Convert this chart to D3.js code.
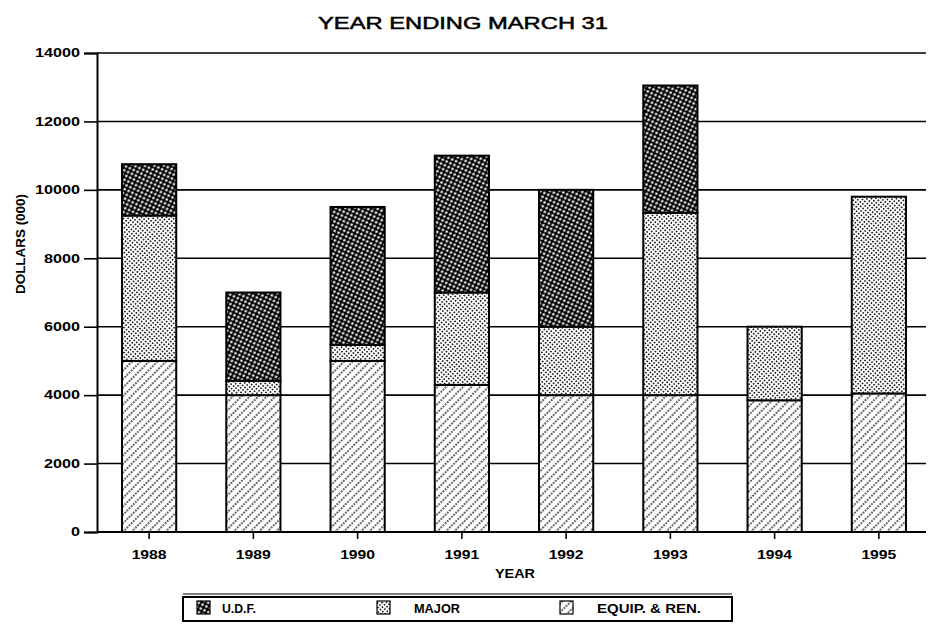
<!DOCTYPE html>
<html>
<head>
<meta charset="utf-8">
<script src="https://cdn.jsdelivr.net/npm/d3@7"></script>
<style>
  body { margin: 0; background: #fff; }
  text { font-family: "Liberation Sans", Arial, sans-serif; fill: #000; }
</style>
</head>
<body>
<div id="chart"></div>
<script>
// values (dollars, 000)
var years = ["1988", "1989", "1990", "1991", "1992", "1993", "1994", "1995"];
var equip = [5000, 4000, 5000, 4300, 4000, 4000, 3850, 4050];
var major = [4250, 420, 470, 2700, 2000, 5330, 2150, 5750];
var udf   = [1500, 2580, 4030, 4000, 4000, 3720, 0, 0];
var yTicks = [0, 2000, 4000, 6000, 8000, 10000, 12000, 14000];
var seriesKeys = ["equip", "major", "udf"];
var legendNames = ["U.D.F.", "MAJOR", "EQUIP. & REN."];

var width = 928, height = 643;
var margin = {top: 53, right: 3, bottom: 111, left: 97};

var svg = d3.select("#chart").append("svg")
    .attr("width", width)
    .attr("height", height);

// patterns
var defs = svg.append("defs");

var pU = defs.append("pattern").attr("id", "pat-udf")
    .attr("patternUnits", "userSpaceOnUse").attr("width", 6).attr("height", 6)
    .attr("patternTransform", "rotate(-20)");
pU.append("rect").attr("width", 6).attr("height", 6).attr("fill", "#000");
pU.append("circle").attr("cx", 1.5).attr("cy", 1.5).attr("r", 1.3).attr("fill", "#fff");
pU.append("circle").attr("cx", 4.5).attr("cy", 4.5).attr("r", 1.3).attr("fill", "#fff");

var pM = defs.append("pattern").attr("id", "pat-major")
    .attr("patternUnits", "userSpaceOnUse").attr("width", 3.2).attr("height", 3.2)
    .attr("patternTransform", "rotate(40)");
pM.append("rect").attr("width", 3.2).attr("height", 3.2).attr("fill", "#fff");
pM.append("circle").attr("cx", 1.6).attr("cy", 1.6).attr("r", 0.9).attr("fill", "#000");

var pE = defs.append("pattern").attr("id", "pat-equip")
    .attr("patternUnits", "userSpaceOnUse").attr("width", 6).attr("height", 6)
    .attr("patternTransform", "rotate(45)");
pE.append("rect").attr("width", 6).attr("height", 6).attr("fill", "#fff");
pE.append("line").attr("x1", 1).attr("y1", 0).attr("x2", 1).attr("y2", 6)
    .attr("stroke", "#000").attr("stroke-width", 1.3).attr("stroke-dasharray", "1.8,1.2");

var fills = {equip: "url(#pat-equip)", major: "url(#pat-major)", udf: "url(#pat-udf)"};

var rows = years.map(function(y, i) {
  return {year: y, equip: equip[i], major: major[i], udf: udf[i]};
});

var x = d3.scaleBand()
    .domain(years)
    .range([margin.left, 931])
    .paddingInner(0.48)
    .paddingOuter(0.24);

var y = d3.scaleLinear()
    .domain([0, 14000])
    .range([height - margin.bottom, margin.top]);

// title
svg.append("text")
    .attr("x", 463).attr("y", 29)
    .attr("text-anchor", "middle")
    .attr("font-size", "17px")
    .attr("stroke", "#000").attr("stroke-width", 0.5)
    .attr("textLength", 290).attr("lengthAdjust", "spacingAndGlyphs")
    .text("YEAR ENDING MARCH 31");

// grid lines
svg.append("g").selectAll("line")
    .data(yTicks.slice(1))
    .enter().append("line")
    .attr("x1", margin.left).attr("x2", 926)
    .attr("y1", function(d) { return y(d); })
    .attr("y2", function(d) { return y(d); })
    .attr("stroke", "#000").attr("stroke-width", 1.6);

// y axis
var yAxis = svg.append("g")
    .attr("transform", "translate(" + margin.left + ",0)")
    .call(d3.axisLeft(y).tickValues(yTicks).tickSize(13).tickPadding(4).tickFormat(d3.format("d")));
yAxis.select(".domain").attr("stroke-width", 2);
yAxis.selectAll(".tick line").attr("stroke-width", 1.6);
yAxis.selectAll(".tick text")
    .attr("font-size", "12px").attr("font-weight", "bold")
    .attr("font-family", "Liberation Sans, Arial, sans-serif")
    .attr("textLength", function(d) { return String(d).length * 9; })
    .attr("lengthAdjust", "spacingAndGlyphs");

// bars
var stacked = d3.stack().keys(seriesKeys)(rows);

svg.append("g").selectAll("g")
    .data(stacked)
    .enter().append("g")
    .attr("fill", function(s) { return fills[s.key]; })
    .selectAll("rect")
    .data(function(s) { return s.filter(function(d) { return d[1] - d[0] > 0; }); })
    .enter().append("rect")
    .attr("x", function(d) { return x(d.data.year); })
    .attr("width", x.bandwidth())
    .attr("y", function(d) { return y(d[1]); })
    .attr("height", function(d) { return y(d[0]) - y(d[1]); })
    .attr("stroke", "#000").attr("stroke-width", 2);

// x axis
var xAxis = svg.append("g")
    .attr("transform", "translate(0," + (height - margin.bottom) + ")")
    .call(d3.axisBottom(x).tickSize(7).tickPadding(11));
xAxis.select(".domain").attr("d", "M" + margin.left + ",0H926").attr("stroke-width", 2);
xAxis.selectAll(".tick line").attr("stroke-width", 1.6);
xAxis.selectAll(".tick text")
    .attr("font-size", "12px").attr("font-weight", "bold")
    .attr("font-family", "Liberation Sans, Arial, sans-serif")
    .attr("textLength", 35).attr("lengthAdjust", "spacingAndGlyphs");

// axis titles
svg.append("text")
    .attr("x", 515).attr("y", 578)
    .attr("text-anchor", "middle")
    .attr("font-size", "12px").attr("font-weight", "bold")
    .attr("textLength", 40).attr("lengthAdjust", "spacingAndGlyphs")
    .text("YEAR");

svg.append("text")
    .attr("transform", "translate(25,244) rotate(-90)")
    .attr("text-anchor", "middle")
    .attr("font-size", "12px").attr("font-weight", "bold")
    .attr("textLength", 100).attr("lengthAdjust", "spacingAndGlyphs")
    .text("DOLLARS (000)");

// legend
var legend = svg.append("g");
legend.append("rect")
    .attr("x", 183).attr("y", 597).attr("width", 549).attr("height", 24)
    .attr("fill", "none").attr("stroke", "#000").attr("stroke-width", 2);
legend.append("line")
    .attr("x1", 183).attr("x2", 732).attr("y1", 594).attr("y2", 594)
    .attr("stroke", "#000").attr("stroke-width", 1.2);

var legendKeys = ["udf", "major", "equip"];
var swatchX = [197, 377, 560];
var textX = [222, 414, 597];
var textLen = [34, 46, 104];

legendKeys.forEach(function(k, i) {
  legend.append("rect")
      .attr("x", swatchX[i]).attr("y", 601).attr("width", 13).attr("height", 13)
      .attr("fill", fills[k]).attr("stroke", "#000").attr("stroke-width", 1.2);
  legend.append("text")
      .attr("x", textX[i]).attr("y", 613)
      .attr("font-size", "12px").attr("font-weight", "bold")
      .attr("textLength", textLen[i]).attr("lengthAdjust", "spacingAndGlyphs")
      .text(legendNames[i]);
});
</script>
</body>
</html>
